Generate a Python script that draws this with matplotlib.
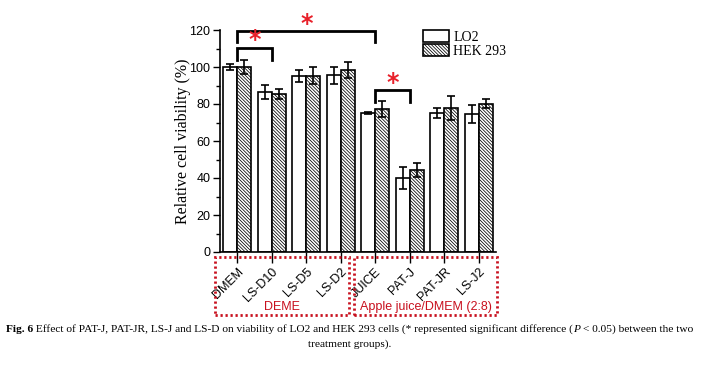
import matplotlib
matplotlib.use("Agg")
import matplotlib.pyplot as plt
from matplotlib.patches import Rectangle, Patch
from matplotlib.ticker import MultipleLocator
import numpy as np

categories = ['DMEM', 'LS-D10', 'LS-D5', 'LS-D2', 'JUICE', 'PAT-J', 'PAT-JR', 'LS-J2']
lo2 = [100.0, 86.5, 95.2, 95.5, 75.0, 40.0, 75.3, 74.7]
lo2_err = [1.5, 3.8, 3.4, 4.6, 0.5, 6.0, 2.8, 4.8]
hek = [100.0, 85.6, 95.3, 98.3, 77.3, 44.2, 78.0, 80.2]
hek_err = [4.0, 2.7, 4.5, 4.5, 4.5, 3.7, 6.5, 2.6]
series_names = ['LO2', 'HEK 293']
group_names = ['DEME', 'Apple juice/DMEM (2:8)']
# significance brackets: (group a, group b, top, left leg bottom, right leg bottom, star y)
brackets = [(0, 1, 110.4, 104.0, 104.0, 114.5),
            (0, 4, 119.3, 113.4, 113.4, 123.0),
            (4, 5, 87.5, 81.2, 81.2, 91.5)]
caption_bold = 'Fig. 6'
caption_rest = (' Effect of PAT-J, PAT-JR, LS-J and LS-D on viability of LO2 and HEK 293 cells '
                '(* represented significant difference (')
caption_line2 = 'treatment groups).'

W, H = 701, 367
fig = plt.figure(figsize=(W / 100, H / 100), dpi=100)
fig.patch.set_facecolor('white')

def fx(px):
    return px / W

def fy(py):
    return 1 - py / H

plt.rcParams['hatch.color'] = '#8c8c8c'
plt.rcParams['hatch.linewidth'] = 0.55
HATCH = '\\' * 10

ax = fig.add_axes([fx(220), fy(252), fx(496) - fx(220), fy(30) - fy(252)])
x = np.arange(len(categories))
bw = 0.4
ax.bar(x - bw / 2, lo2, bw, color='white', edgecolor='black', linewidth=1.2,
       yerr=lo2_err, error_kw=dict(ecolor='black', elinewidth=1.2, capsize=3, capthick=1.2),
       label=series_names[0], zorder=2)
ax.bar(x + bw / 2, hek, bw, color='white', edgecolor='black', linewidth=1.2, hatch=HATCH,
       yerr=hek_err, error_kw=dict(ecolor='black', elinewidth=1.2, capsize=3, capthick=1.2),
       label=series_names[1], zorder=2)

ax.set_xlim(-0.5, 7.5)
ax.set_ylim(0, 120)
ax.set_xticks(x)
ax.set_xticklabels(categories, rotation=45, ha='right', rotation_mode='anchor',
                   fontsize=9, family='Liberation Sans')
ax.yaxis.set_major_locator(MultipleLocator(20))
ax.yaxis.set_minor_locator(MultipleLocator(10))
for lab in ax.get_yticklabels():
    lab.set_family('Liberation Sans')
    lab.set_fontsize(9)
ax.tick_params(axis='y', which='major', direction='out', length=5, width=1, pad=2)
ax.tick_params(axis='y', which='minor', direction='out', length=3, width=1)
ax.tick_params(axis='x', which='major', direction='out', length=8, width=1, pad=2)
ax.spines['top'].set_visible(False)
ax.spines['right'].set_visible(False)
ax.spines['left'].set_linewidth(1.2)
ax.spines['bottom'].set_linewidth(1.2)
ax.set_ylabel('Relative cell viability (%)', family='Liberation Serif', fontsize=11.5, labelpad=-1)

for a, b, top, la, lb, sy in brackets:
    ax.plot([a, a, b, b], [la, top, top, lb], color='black', lw=2, clip_on=False,
            solid_joinstyle='miter', zorder=3)
    ax.text((a + b) / 2, sy, '*', color='#e8202a', fontsize=17, ha='center', va='center',
            fontweight='bold', clip_on=False, zorder=4)

handles = [Patch(facecolor='white', edgecolor='black', linewidth=1.2),
           Patch(facecolor='white', edgecolor='black', linewidth=1.2, hatch=HATCH)]
ax.legend(handles, series_names, loc='upper left', bbox_to_anchor=(0.735, 1.0),
          frameon=False, handlelength=1.9, handleheight=0.95, labelspacing=0.0,
          handletextpad=0.3, borderpad=0, borderaxespad=0,
          prop=dict(family='Liberation Serif', size=10))

red = '#c8101e'
for (x0, x1), name in zip([(215, 349), (354, 497)], group_names):
    fig.patches.append(Rectangle((fx(x0), fy(315)), fx(x1) - fx(x0), fy(257) - fy(315),
                                 transform=fig.transFigure, fill=False, edgecolor=red,
                                 linewidth=2, linestyle=(0, (0.8, 1.0))))
    fig.text(fx((x0 + x1) / 2), fy(307), name, color=red, fontsize=9,
             family='Liberation Sans', ha='center', va='center')

fs = 8.2
fig.canvas.draw()
r = fig.canvas.get_renderer()
t1 = fig.text(fx(6), fy(329), caption_bold, fontsize=fs, fontweight='bold',
              family='Liberation Serif', va='center', ha='left')
bb = t1.get_window_extent(r)
t2 = fig.text(bb.x1 / W, fy(329), caption_rest, fontsize=fs,
              family='Liberation Serif', va='center', ha='left')
bb = t2.get_window_extent(r)
t3 = fig.text(bb.x1 / W, fy(329), 'P', fontsize=fs, style='italic',
              family='Liberation Serif', va='center', ha='left')
bb = t3.get_window_extent(r)
fig.text(bb.x1 / W, fy(329), ' < 0.05) between the two', fontsize=fs,
         family='Liberation Serif', va='center', ha='left')
fig.text(fx(350), fy(344), caption_line2, fontsize=fs,
         family='Liberation Serif', va='center', ha='center')

fig.savefig('out.png', dpi=100)
